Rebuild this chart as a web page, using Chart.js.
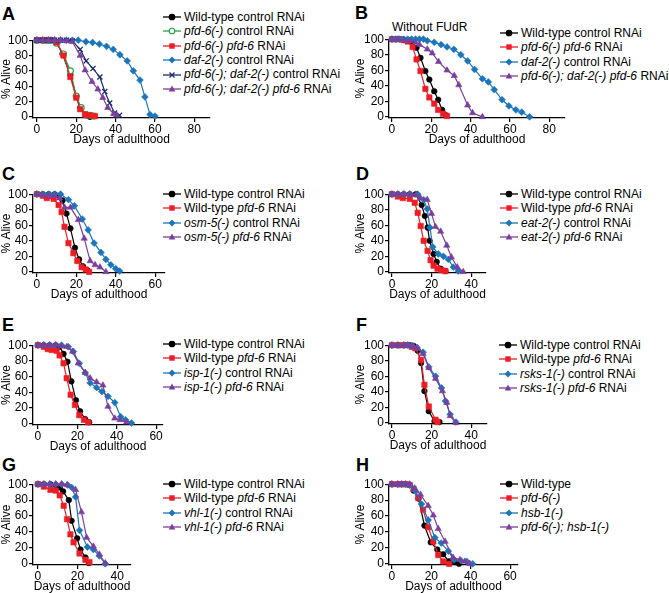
<!DOCTYPE html>
<html lang="en">
<head>
<meta charset="UTF-8">
<title>Lifespan curves</title>
<script src="https://cdn.jsdelivr.net/npm/chart.js"></script>
<style>
  body { margin: 0; background: #fff; font-family: "Liberation Sans", Arial, sans-serif; color: #000; }
  #fig { position: relative; width: 669px; height: 593px; overflow: hidden; }
  #fig canvas { position: absolute; }
  .letter { position: absolute; font-size: 18px; font-weight: bold; line-height: 18px; }
  .legend { position: absolute; font-size: 12px; }
  .legend .row { height: 14.4px; line-height: 14.4px; white-space: nowrap; display: flex; align-items: center; }
  .legend svg { margin-right: 3px; flex: none; }
  .note { position: absolute; font-size: 12px; line-height: 14px; }
</style>
</head>
<body>
<div id="fig"></div>

<script>
// ---- data: [day, % alive] for each curve ----

// A
const aLabels = ['Wild-type control RNAi', '<i>pfd-6(-)</i> control RNAi', '<i>pfd-6(-) pfd-6</i> RNAi',
                 '<i>daf-2(-)</i> control RNAi', '<i>pfd-6(-); daf-2(-)</i> control RNAi', '<i>pfd-6(-); daf-2(-) pfd-6</i> RNAi'];
const aWt = [[0,100],[3,100],[5,100],[7,100],[10,97],[13,82],[17,55],[20,27],[22,12],[25,2],[27,0]];
const aPfd6Ctrl = [[0,100],[3,100],[5,100],[7,100],[10,96],[13.5,82],[17,60],[20,27],[22.5,12],[25,3],[27,2],[29,1]];
const aPfd6Rnai = [[0,100],[3,100],[5,100],[7,100],[10,97],[13.5,80],[17,52],[20,25],[22,10],[24.5,3],[27,2],[29.5,1]];
const aDaf2 = [[0,100],[3,100],[6,100],[9,100],[12,100],[15,100],[18,100],[21,100],[24.9,98],[28.3,97],[31.7,95],
               [35.4,92],[38.8,88],[42.2,81],[45.9,73],[49,60],[52.4,48],[54.9,26],[57.5,3],[60,1]];
const aDblCtrl = [[0,100],[3,100],[6,100],[9,100],[12,100],[15,100],[18,99],[22,88],[25,73],[28.5,63],[32,52],
                  [34.5,33],[37,18],[39.5,5],[42,2]];
const aDblRnai = [[0,100],[3,100],[6,100],[9,100],[12,100],[15,99],[18,98],[22,80],[24.5,61],[28,46],[31,36],
                  [33.5,25],[36,12],[39,4],[40.5,2]];

// B
const bLabels = ['Wild-type control RNAi', '<i>pfd-6(-) pfd-6</i> RNAi', '<i>daf-2(-)</i> control RNAi',
                 '<i>pfd-6(-); daf-2(-) pfd-6</i> RNAi'];
const bWt = [[0,100],[2,100],[4,100],[6,99],[8,98],[10,97],[12.5,89],[14.5,76],[17,59],[19,48],[21.5,33],[23.5,22],[25.5,9],[27.5,2]];
const bPfd6 = [[0,100],[2,100],[4,100],[6,99],[8,97],[10.5,90],[12.5,74],[14.5,59],[17,36],[19,25],[21.5,17],[23.5,9],[26,4],[28,1]];
const bDaf2 = [[0,100],[2,100],[4,100],[6,100],[8,100],[10,100],[12,100],[14,100],[16,100],[18,98],[21.5,96],[25,93],
               [28,90],[31.5,87],[35,80],[38.5,72],[42,61],[46,49],[49,45],[52,35],[56,22],[59.5,14],[63,9],[66,6],[70,0]];
const bDblRnai = [[0,100],[3,100],[6,99],[9,98],[12,96],[14,93],[18,87],[20.5,82],[23.7,71],[28,60],[31.7,53],[34,41],
                  [38.5,15],[41,5],[46,0]];

// C
const cLabels = ['Wild-type control RNAi', 'Wild-type <i>pfd-6</i> RNAi', '<i>osm-5(-)</i> control RNAi', '<i>osm-5(-) pfd-6</i> RNAi'];
const cWt = [[0,100],[3,100],[6,100],[9,100],[11,98],[13,92],[15,75],[17,56],[19.3,31],[21.4,16],[23.4,7],[25.6,2]];
const cPfd6 = [[0,100],[3,98],[5,95],[8.5,94],[11,86],[12.5,77],[14,58],[16,37],[18.5,24],[20.5,14],[22.7,6],[24.8,3],[26.5,0]];
const cOsm5 = [[0,100],[3,100],[6,100],[9,100],[12,100],[16,93],[19,85],[23,68],[26,54],[29,37],[32.5,25],[35,16],
               [37.5,9],[40,4],[42,1]];
const cOsm5Rnai = [[0,100],[3,99],[6,98],[9,98],[11.5,95],[14,83],[17,83],[21,67],[24,43],[27,14],[29.5,9],[32,6],[35,0]];

// D
const dLabels = ['Wild-type control RNAi', 'Wild-type <i>pfd-6</i> RNAi', '<i>eat-2(-)</i> control RNAi', '<i>eat-2(-) pfd-6</i> RNAi'];
const dWt = [[0,100],[3,100],[6,100],[9,100],[12,100],[15,86],[16.6,72],[18,57],[19,40],[21,23],[22.6,13],[24.6,4],[27,1]];
const dPfd6 = [[0,100],[3,97],[5.5,95],[9,94],[11.5,89],[13,76],[14.5,59],[16,40],[18,27],[19.5,15],[21,8],[23,4],[25,2],[27,1]];
const dEat2 = [[0,100],[3,100],[6,100],[9,100],[13,100],[16,93],[17.8,81],[19.2,57],[20.6,32],[23.4,23],[26,20],
               [28.5,16],[31,6],[33.5,1]];
const dEat2Rnai = [[0,100],[3,100],[6,100],[9,100],[12,99],[14.4,95],[17.8,93],[20,75],[22,58],[24.6,52],[27.7,34],
                   [30,19],[33,6],[36,0]];

// E
const eLabels = ['Wild-type control RNAi', 'Wild-type <i>pfd-6</i> RNAi', '<i>isp-1(-)</i> control RNAi', '<i>isp-1(-) pfd-6</i> RNAi'];
const eWt = [[0,100],[3,100],[6,100],[9,100],[11,98],[13,89],[15,79],[17,54],[19.3,30],[21.4,16],[24,6],[26,2]];
const ePfd6 = [[0,100],[3,98],[5,95],[7,94],[9.5,93],[11,87],[13,77],[14.6,58],[16.6,37],[18.8,24],[21,11],[23.4,5],[25.6,2]];
const eIsp1 = [[0,100],[3,100],[6,100],[9,100],[12,100],[15.4,98],[18,92],[21,77],[24,65],[26.5,52],[29.8,46],
               [32.5,41],[35.6,35],[39,27],[42,9],[44.5,5],[47.5,1]];
const eIsp1Rnai = [[0,100],[3,100],[6,100],[9,100],[12,99],[14.6,98],[17.6,92],[20.5,77],[24,65],[26.5,58],[29.8,53],
                   [33,49],[35.6,22],[39,7],[41.7,5],[45,2]];

// F
const fLabels = ['Wild-type control RNAi', 'Wild-type <i>pfd-6</i> RNAi', '<i>rsks-1(-)</i> control RNAi', '<i>rsks-1(-) pfd-6</i> RNAi'];
const fWt = [[0,100],[3,100],[6,100],[9,100],[11,99],[13,93],[14.7,77],[16.4,41],[18.6,15],[21.5,2],[24,1]];
const fPfd6 = [[0,100],[3,100],[5,100],[7.5,100],[10,98],[11.8,96],[14.7,81],[16.4,49],[18.6,21],[22,4],[23,1]];
const fRsks1 = [[0,100],[3,100],[6,100],[8,100],[10,99],[12.6,97],[15.7,91],[18.6,72],[22,60],[25,45],[27,28],[29.4,11],[32.3,1]];
const fRsks1Rnai = [[0,100],[3,100],[6,100],[8,100],[10.5,99],[13,96],[15.7,89],[18.6,71],[22,57],[25.5,41],[27.7,26],
                    [29.4,9],[32.3,0]];

// G
const gLabels = ['Wild-type control RNAi', 'Wild-type <i>pfd-6</i> RNAi', '<i>vhl-1(-)</i> control RNAi', '<i>vhl-1(-) pfd-6</i> RNAi'];
const gWt = [[0,100],[3,100],[6.3,100],[9,99],[11,96],[12.7,91],[15.6,80],[17,54],[19.8,32],[21.5,18],[24,8],[25.7,1]];
const gPfd6 = [[0,100],[3,97],[6.3,93],[9,92],[11,86],[13,73],[14.7,56],[16.4,37],[18,27],[21,13],[24,5],[26,2]];
const gVhl1 = [[0,100],[3,100],[6,100],[9,100],[12,100],[15,99],[17,96],[19,84],[21,42],[25,21],[28,18],[31,10],[34,0]];
const gVhl1Rnai = [[0,100],[3,100],[6,100],[9,100],[12,100],[14.7,99],[19,93],[22,65],[24.6,33],[28,22],[31,12],[34,1]];

// H
const hLabels = ['Wild-type', '<i>pfd-6(-)</i>', '<i>hsb-1(-)</i>', '<i>pfd-6(-); hsb-1(-)</i>'];
const hWt = [[0,100],[3,100],[5,100],[7,100],[9,99],[11,92],[13.5,82],[16.5,48],[19.7,27],[23,18],[26,12],[29,3],[32,2],[34,0]];
const hPfd6 = [[0,100],[3,100],[5,100],[7,100],[9,99],[11,94],[13.3,83],[15.8,68],[18.4,46],[21,28],[23.5,11],[26,3],[29,0]];
const hHsb1 = [[0,100],[3,100],[5,100],[7,100],[9,99],[12,91],[15,75],[18.4,55],[21.8,33],[25,26],[28.6,16],[31.5,5],
               [35,4],[38,3],[41,0]];
const hDbl = [[0,100],[3,100],[5,100],[7,100],[9,100],[11.5,95],[14.5,87],[18.4,73],[21,61],[23.5,44],[27,28],[31,8],
              [34.5,5],[37,3],[39.6,0]];

const yTicks = [0, 20, 40, 60, 80, 100];
const xTicks80 = [0, 20, 40, 60, 80];
const xTicks60 = [0, 20, 40, 60];
const xTicks40 = [0, 20, 40];

// ---- styles ----
const STYLES = {
  black:     { color: '#000000', point: 'circle',   r: 2.8 },
  greenOpen: { color: '#25a244', point: 'circle',   r: 3,   open: true },
  red:       { color: '#ee1c24', point: 'rect',     r: 3.8 },
  blue:      { color: '#1b75bc', point: 'rectRot',  r: 3.4 },
  navy:      { color: '#1b2a6b', point: 'crossRot', r: 3.6 },
  purple:    { color: '#7a3f9d', point: 'triangle', r: 3.6 }
};

const PX = 1.97;   // px per day, same in every panel

const panels = [
  { id: 'A', series: [aWt, aPfd6Ctrl, aPfd6Rnai, aDaf2, aDblCtrl, aDblRnai], labels: aLabels,
    styles: ['black', 'greenOpen', 'red', 'blue', 'navy', 'purple'], xTicks: xTicks80,
    axisX: 33, yW: 34, top: 40, axis: 118, xMin: -2, xMax: 88, legend: [163, 17], letter: [2, 5] },
  { id: 'B', series: [bWt, bPfd6, bDaf2, bDblRnai], labels: bLabels,
    styles: ['black', 'red', 'blue', 'purple'], xTicks: xTicks80,
    axisX: 389, yW: 36, top: 39, axis: 118, xMin: -1.5, xMax: 88, legend: [500, 33], letter: [355, 4],
    note: ['Without FUdR', 392, 20] },
  { id: 'C', series: [cWt, cPfd6, cOsm5, cOsm5Rnai], labels: cLabels,
    styles: ['black', 'red', 'blue', 'purple'], xTicks: xTicks60,
    axisX: 33, yW: 34, top: 194, axis: 273, xMin: -2, xMax: 65, legend: [163, 194], letter: [2, 165] },
  { id: 'D', series: [dWt, dPfd6, dEat2, dEat2Rnai], labels: dLabels,
    styles: ['black', 'red', 'blue', 'purple'], xTicks: xTicks40,
    axisX: 389, yW: 36, top: 194, axis: 273, xMin: -1.5, xMax: 47.5, legend: [500, 194], letter: [356, 165] },
  { id: 'E', series: [eWt, ePfd6, eIsp1, eIsp1Rnai], labels: eLabels,
    styles: ['black', 'red', 'blue', 'purple'], xTicks: xTicks60,
    axisX: 33, yW: 34, top: 345, axis: 425, xMin: -2.5, xMax: 63.5, legend: [163, 344], letter: [2, 316] },
  { id: 'F', series: [fWt, fPfd6, fRsks1, fRsks1Rnai], labels: fLabels,
    styles: ['black', 'red', 'blue', 'purple'], xTicks: xTicks40,
    axisX: 389, yW: 36, top: 345, axis: 424, xMin: -1.5, xMax: 48, legend: [499, 345], letter: [356, 316] },
  { id: 'G', series: [gWt, gPfd6, gVhl1, gVhl1Rnai], labels: gLabels,
    styles: ['black', 'red', 'blue', 'purple'], xTicks: xTicks40,
    axisX: 33, yW: 34, top: 484, axis: 565, xMin: -2.5, xMax: 47, legend: [163, 484], letter: [2, 456] },
  { id: 'H', series: [hWt, hPfd6, hHsb1, hDbl], labels: hLabels,
    styles: ['black', 'red', 'blue', 'purple'], xTicks: xTicks60,
    axisX: 389, yW: 36, top: 484, axis: 565, xMin: -1.5, xMax: 64, legend: [500, 484], letter: [356, 456] }
];

Chart.defaults.font.family = '"Liberation Sans", Arial, sans-serif';
Chart.defaults.font.size = 12;
Chart.defaults.color = '#000';

const fig = document.getElementById('fig');
const PAD_TOP = 8, PAD_RIGHT = 8, X_H = 30;

function markerSvg(st) {
  const c = st.color, fill = st.open ? '#fff' : c;
  let shape = '';
  if (st.point === 'circle') shape = `<circle cx="9" cy="5" r="2.8" fill="${fill}" stroke="${c}" stroke-width="1.1"/>`;
  else if (st.point === 'rect') shape = `<rect x="6.3" y="2.3" width="5.4" height="5.4" fill="${c}"/>`;
  else if (st.point === 'rectRot') shape = `<polygon points="9,1.6 12.4,5 9,8.4 5.6,5" fill="${c}"/>`;
  else if (st.point === 'triangle') shape = `<polygon points="9,1.4 12.3,7.6 5.7,7.6" fill="${c}"/>`;
  else if (st.point === 'crossRot') shape = `<path d="M6.5,2.5 L11.5,7.5 M11.5,2.5 L6.5,7.5" stroke="${c}" stroke-width="1.3"/>`;
  return `<svg width="18" height="10"><line x1="0" y1="5" x2="18" y2="5" stroke="${c}" stroke-width="1.3"/>${shape}</svg>`;
}

panels.forEach(p => {
  // panel letter
  const lt = document.createElement('div');
  lt.className = 'letter';
  lt.textContent = p.id;
  lt.style.left = p.letter[0] + 'px';
  lt.style.top = p.letter[1] + 'px';
  fig.appendChild(lt);

  if (p.note) {
    const n = document.createElement('div');
    n.className = 'note';
    n.textContent = p.note[0];
    n.style.left = p.note[1] + 'px';
    n.style.top = p.note[2] + 'px';
    fig.appendChild(n);
  }

  // legend
  const lg = document.createElement('div');
  lg.className = 'legend';
  lg.style.left = p.legend[0] + 'px';
  lg.style.top = (p.legend[1] - 7.2) + 'px';
  lg.innerHTML = p.labels.map((lab, i) =>
    `<div class="row">${markerSvg(STYLES[p.styles[i]])}<span>${lab}</span></div>`).join('');
  fig.appendChild(lg);

  // chart
  const areaW = (p.xMax - p.xMin) * PX;
  const cv = document.createElement('canvas');
  const w = Math.round(p.yW + areaW + PAD_RIGHT);
  const h = PAD_TOP + (p.axis - p.top) + X_H;
  cv.width = w; cv.height = h;
  cv.style.width = w + 'px'; cv.style.height = h + 'px';
  cv.style.left = (p.axisX - p.yW) + 'px';
  cv.style.top = (p.top - PAD_TOP) + 'px';
  fig.appendChild(cv);

  const n = p.series.length;
  new Chart(cv, {
    type: 'line',
    data: {
      datasets: p.series.map((d, i) => {
        const st = STYLES[p.styles[i]];
        return {
          label: p.labels[i],
          data: d.map(([x, y]) => ({ x, y })),
          borderColor: st.color,
          backgroundColor: st.open ? '#fff' : st.color,
          pointBorderColor: st.color,
          pointBackgroundColor: st.open ? '#fff' : st.color,
          pointStyle: st.point,
          pointRadius: st.r,
          pointBorderWidth: st.point === 'crossRot' ? 1.3 : (st.open ? 1.1 : 0.6),
          borderWidth: 1.2,
          tension: 0,
          clip: false,
          order: n - i
        };
      })
    },
    options: {
      responsive: false,
      animation: false,
      devicePixelRatio: 1,
      layout: { padding: { top: PAD_TOP, right: PAD_RIGHT, left: 0, bottom: 0 } },
      plugins: { legend: { display: false }, tooltip: { enabled: false } },
      scales: {
        x: {
          type: 'linear',
          min: p.xMin,
          max: p.xMax,
          afterFit: s => { s.height = X_H; },
          afterBuildTicks: s => { s.ticks = p.xTicks.map(v => ({ value: v })); },
          grid: { drawOnChartArea: false, drawTicks: true, tickLength: 4, color: '#000', lineWidth: 1.2 },
          border: { color: '#000', width: 1.3 },
          ticks: { autoSkip: false, maxRotation: 0, padding: 0, color: '#000' },
          title: { display: true, text: 'Days of adulthood', color: '#000', padding: { top: 0, bottom: 1 } }
        },
        y: {
          min: -1.5,
          max: 100,
          afterFit: s => { s.width = p.yW; },
          afterBuildTicks: s => { s.ticks = yTicks.map(v => ({ value: v })); },
          grid: { drawOnChartArea: false, drawTicks: true, tickLength: 4, color: '#000', lineWidth: 1.2 },
          border: { color: '#000', width: 1.3 },
          ticks: { autoSkip: false, padding: 1, color: '#000' },
          title: { display: true, text: '% Alive', color: '#000', padding: 0 }
        }
      }
    }
  });
});
</script>
</body>
</html>
